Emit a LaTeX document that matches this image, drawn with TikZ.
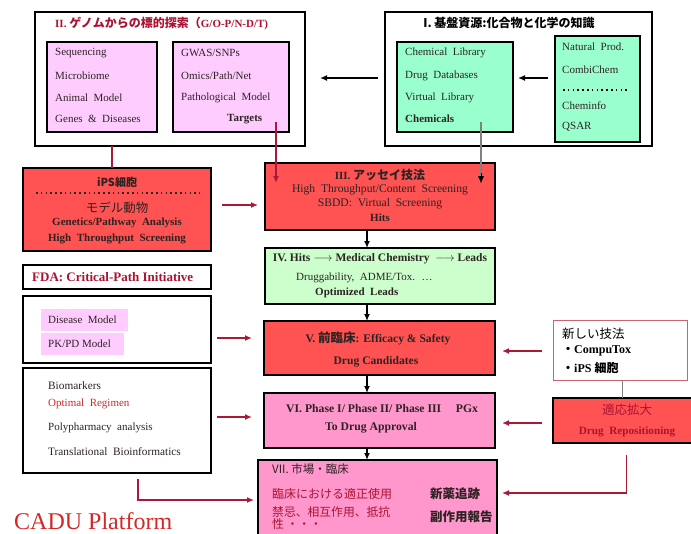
\documentclass[tikz,border=0pt]{standalone}
\usepackage{fontspec}
\setmainfont{Liberation Serif}
\newfontfamily\jpfont{Noto Sans CJK JP}
\usetikzlibrary{arrows.meta,calc}
\definecolor{redfill}{RGB}{255,82,82}
\definecolor{pinkfill}{RGB}{255,150,204}
\definecolor{lightpink}{RGB}{255,204,255}
\definecolor{mint}{RGB}{153,255,204}
\definecolor{palegreen}{RGB}{204,255,204}
\definecolor{titlered}{RGB}{170,20,50}
\definecolor{arrowred}{RGB}{170,25,55}
\definecolor{txtc}{RGB}{45,35,35}
\definecolor{regred}{RGB}{210,40,40}
\definecolor{newborder}{RGB}{200,100,115}
\tikzset{
  box/.style={draw=black, line width=1.4pt, inner sep=0pt, outer sep=0pt, anchor=north west},
  txt/.style={inner sep=0pt, anchor=west, text=txtc, font=\fontsize{11}{13}\selectfont},
  ctxt/.style={txt, anchor=center},
  btxt/.style={txt, font=\bfseries\fontsize{11}{13}\selectfont},
  bctxt/.style={btxt, anchor=center},
  blkarrow/.style={-{Latex[length=7pt,width=6pt]}, line width=1.5pt, draw=black},
  redarrow/.style={-{Latex[length=7pt,width=6pt]}, line width=1.5pt, draw=arrowred},
}
\begin{document}
\begin{tikzpicture}[x=1pt,y=-1pt]
\useasboundingbox (0,0) rectangle (691,533);
\fill[white] (0,0) rectangle (691,533);

% ---------- II (top left)
\node[box, minimum width=270pt, minimum height=134pt] (A2) at (35,12) {};
\node[txt, text=titlered, font=\bfseries\fontsize{11}{13}\selectfont] (A2t) at (55,23) {II. {\jpfont\fontsize{12}{13}\selectfont ゲノムからの標的探索（}G/O-P/N-D/T)};
\node[box, fill=lightpink, minimum width=110pt, minimum height=90pt] (GL) at (47,42) {};
\node[txt] (gl1) at (55,53) {Sequencing};
\node[txt] (gl2) at (55,76) {Microbiome};
\node[txt] (gl3) at (55,98) {Animal~ Model};
\node[txt] (gl4) at (55,119) {Genes ~\&~ Diseases};
\node[box, fill=lightpink, minimum width=116pt, minimum height=90pt] (GR) at (173,42) {};
\node[txt] (gr1) at (181,53) {GWAS/SNPs};
\node[txt] (gr2) at (181,76) {Omics/Path/Net};
\node[txt] (gr3) at (181,98) {Pathological~ Model};
\node[btxt] (gr4) at (227,119) {Targets};

% ---------- I (top right)
\node[box, minimum width=267pt, minimum height=134pt] (A1) at (385,12) {};
\node[ctxt, font=\jpfont\bfseries\fontsize{12}{13}\selectfont, text=black] (A1t) at (509,23) {I. 基盤資源:化合物と化学の知識};
\node[box, fill=mint, minimum width=116pt, minimum height=90pt] (CH) at (397,42) {};
\node[txt] (ch1) at (405,53) {Chemical~ Library};
\node[txt] (ch2) at (405,76) {Drug~ Databases};
\node[txt] (ch3) at (405,98) {Virtual~ Library};
\node[btxt] (ch4) at (405,119) {Chemicals};
\node[box, fill=mint, minimum width=85pt, minimum height=106pt] (NP) at (555,36) {};
\node[txt] (np1) at (562,47) {Natural~ Prod.};
\node[txt] (np2) at (562,70) {CombiChem};
\draw[line width=1.6pt, dash pattern=on 1.6pt off 3.2pt] ($(NP.north west)+(8,54)$) -- ($(NP.north east)+(-10,54)$);
\node[txt] (np3) at (562,106) {Cheminfo};
\node[txt] (np4) at (562,127) {QSAR};

\draw[blkarrow] ($(NP.west)+(-7,-11)$) -- ($(CH.east)+(5,-9)$);
\draw[blkarrow] ($(A1.west)+(-7,-1)$) -- ($(A2.east)+(15,-1)$);

% ---------- iPS box
\node[box, fill=redfill, minimum width=188pt, minimum height=83pt] (IPS) at (23,168) {};
\node[ctxt, font=\jpfont\bfseries\fontsize{11}{12}\selectfont] (ips1) at (117,182) {iPS細胞};
\draw[line width=1.6pt, dash pattern=on 1.6pt off 3.2pt, draw=txtc] ($(IPS.north west)+(13,25)$) -- ($(IPS.north east)+(-11,25)$);
\node[ctxt, font=\jpfont\fontsize{12.5}{13}\selectfont] (ips2) at (117,208) {モデル動物};
\node[bctxt] (ips3) at (117,223) {Genetics/Pathway~ Analysis};
\node[bctxt] (ips4) at (117,239) {High~ Throughput~ Screening};
\draw[line width=1.3pt, draw=arrowred] ($(A2.south west)+(77,0)$) -- ($(IPS.north west)+(89,0)$);

% ---------- III
\node[box, fill=redfill, minimum width=230pt, minimum height=67pt] (III) at (265,163) {};
\node[bctxt] (t3a) at (380,175) {III. {\jpfont\fontsize{12}{13}\selectfont アッセイ技法}};
\node[ctxt, font=\fontsize{11.6}{13}\selectfont] (t3b) at (380,190) {High~ Throughput/Content~ Screening};
\node[ctxt, font=\fontsize{11.6}{13}\selectfont] (t3c) at (380,204) {SBDD:~ Virtual~ Screening};
\node[bctxt] (t3d) at (380,218) {Hits};
\draw[redarrow] ($(GR.south east)+(-13,-10)$) -- ($(III.north west)+(11,20)$);
\draw[line width=2.2pt, draw=gray] ($(CH.south east)+(-32,-10)$) -- ($(III.north east)+(-14,12)$);
\draw[blkarrow, line width=0.1pt] ($(III.north east)+(-14,10)$) -- ($(III.north east)+(-14,20)$);
\draw[redarrow] ($(IPS.east)+(11,-4.5)$) -- ($(III.west)+(-7,8.5)$);

% ---------- IV
\node[box, fill=palegreen, minimum width=230pt, minimum height=56pt] (IV) at (265,248) {};
\node[bctxt, font=\bfseries\fontsize{11.5}{13}\selectfont] (t4a) at (380,259) {IV. Hits $\longrightarrow$ Medical Chemistry~ $\longrightarrow$ Leads};
\node[txt] (t4b) at (296,278) {Druggability,~ ADME/Tox.~ \dots};
\node[btxt] (t4c) at (315,293) {Optimized~ Leads};
\draw[blkarrow] ($(III.south)+(-13,0)$) -- ($(IV.north)+(-13,0)$);

% ---------- V
\node[box, fill=redfill, minimum width=231pt, minimum height=54pt] (V) at (264,321) {};
\node[bctxt, font=\bfseries\fontsize{11.6}{13}\selectfont] (t5a) at (378,338) {V. {\jpfont\fontsize{12.5}{13}\selectfont 前臨床}: Efficacy \& Safety};
\node[bctxt, font=\bfseries\fontsize{11.6}{13}\selectfont] (t5b) at (376,362) {Drug Candidates};
\draw[blkarrow] ($(IV.south)+(-13,0)$) -- ($(V.north)+(-12.5,0)$);

% ---------- VI
\node[box, fill=pinkfill, minimum width=231pt, minimum height=55pt] (VI) at (264,393) {};
\node[btxt, font=\bfseries\fontsize{11.7}{13}\selectfont] (t6a) at (286,409) {VI. Phase I/ Phase II/ Phase III \quad PGx};
\node[btxt, font=\bfseries\fontsize{11.7}{13}\selectfont] (t6b) at (325,428) {To Drug Approval};
\draw[blkarrow] ($(V.south)+(-12.5,0)$) -- ($(VI.north)+(-12.5,0)$);

% ---------- VII
\node[box, fill=pinkfill, minimum width=239pt, minimum height=90pt] (VII) at (258,460) {};
\node[txt, font=\jpfont\fontsize{11.5}{13}\selectfont] (t7a) at (272,469) {VII. 市場・臨床};
\node[txt, text=titlered, font=\jpfont\fontsize{12}{13}\selectfont] (t7b) at (272,494) {臨床における適正使用};
\node[txt, font=\jpfont\bfseries\fontsize{12.5}{13}\selectfont] (t7c) at (430,494) {新薬追跡};
\node[txt, text=titlered, font=\jpfont\fontsize{11.8}{12.5}\selectfont, align=left, anchor=north west] (t7d) at (272,506) {禁忌、相互作用、抵抗\\性 ・・・};
\node[txt, font=\jpfont\bfseries\fontsize{12.5}{13}\selectfont] (t7e) at (430,517) {副作用報告};
\draw[blkarrow] ($(VI.south)+(-12.5,0)$) -- ($(VII.north)+(-10.5,0)$);

% ---------- left column
\node[box, minimum width=188pt, minimum height=24pt] (FDA) at (23,265) {};
\node[btxt, text=titlered, font=\bfseries\fontsize{13}{14}\selectfont] (fda) at (32,277) {FDA: Critical-Path Initiative};
\node[box, minimum width=188pt, minimum height=67pt] (DM) at (23,296) {};
\node[box, draw=none, fill=lightpink, minimum width=87pt, minimum height=22pt] (dm1) at (41,309) {};
\node[txt] (dm1t) at (48,320) {Disease~ Model};
\node[box, draw=none, fill=lightpink, minimum width=83pt, minimum height=22pt] (dm2) at (41,333) {};
\node[txt] (dm2t) at (48,344) {PK/PD Model};
\node[box, minimum width=188pt, minimum height=105pt] (BM) at (23,368) {};
\node[txt, font=\fontsize{11.3}{13}\selectfont] (bm1) at (48,386) {Biomarkers};
\node[txt, text=regred] (bm2) at (48,404) {Optimal~ Regimen};
\node[txt] (bm3) at (48,428) {Polypharmacy~ analysis};
\node[txt, font=\fontsize{11.3}{13}\selectfont] (bm4) at (48,452) {Translational~ Bioinformatics};

\draw[redarrow] ($(DM.east)+(6,8.5)$) -- ($(V.west)+(-12,-10)$);
\draw[redarrow] ($(BM.east)+(6,-3.5)$) -- ($(VI.west)+(-12,-3.5)$);
\draw[redarrow] ($(BM.south)+(21,6)$) |- ($(VII.west)+(-4,-5)$);

% ---------- right column
\node[box, fill=white, draw=newborder, line width=1pt, minimum width=134pt, minimum height=60pt] (NEW) at (553,320) {};
\node[txt, font=\jpfont\fontsize{12.5}{13}\selectfont, text=black] (new1) at (562,334) {新しい技法};
\node[btxt, text=black, font=\bfseries\fontsize{12}{13}\selectfont] (new2) at (562,351) {{\jpfont ・}CompuTox};
\node[btxt, text=black, font=\bfseries\fontsize{12}{13}\selectfont] (new3) at (562,368) {{\jpfont ・}iPS {\jpfont 細胞}};
\node[box, fill=redfill, line width=2pt, minimum width=139pt, minimum height=45pt] (REPO) at (553,398) {};
\node[ctxt, text=titlered, font=\jpfont\fontsize{12.5}{13}\selectfont] (rp1) at (627,410) {適応拡大};
\node[bctxt, text=titlered, font=\bfseries\fontsize{11.2}{13}\selectfont] (rp2) at (627,432) {Drug~ Repositioning};
\draw[line width=1pt, draw=gray] ($(NEW.south)+(2,0)$) -- ($(REPO.north)+(-0.5,0)$);

\draw[redarrow] ($(NEW.west)+(-11,1)$) -- ($(V.east)+(7,3)$);
\draw[redarrow] ($(REPO.west)+(-11,2.5)$) -- ($(VI.east)+(7,2.5)$);
\draw[redarrow] ($(REPO.south)+(4,12)$) |- ($(VII.east)+(5,-12)$);

% ---------- platform label
\node[txt, text=regred, font=\fontsize{24}{26}\selectfont] (cadu) at (14,521) {CADU Platform};
\end{tikzpicture}
\end{document}
